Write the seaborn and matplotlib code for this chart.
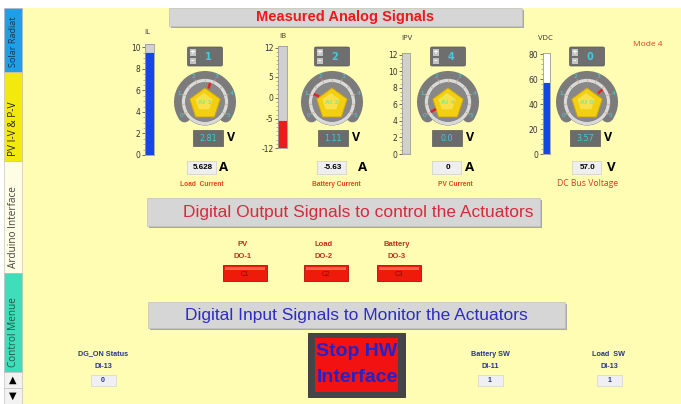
import numpy as np
import matplotlib.pyplot as plt
import seaborn as sns
from matplotlib.patches import Rectangle, Wedge, Circle, RegularPolygon, FancyBboxPatch
from matplotlib.ticker import MultipleLocator

sns.set_style("white")
plt.rcParams["axes.unicode_minus"] = False

NARROW = ["Liberation Sans Narrow", "Liberation Sans", "DejaVu Sans"]
PLAIN = ["Open Sans", "DejaVu Sans"]

# values
tank_names = ["IL", "IB", "IPV", "VDC"]
tank_values = [9.5, -5.63, 0.0, 57.0]
tank_low = [0, -12, 0, 0]
tank_high = [10.3, 12.4, 12.2, 81]
tank_ticks = [[0, 2, 4, 6, 8, 10], [-12, -5, 0, 5, 12],
              [0, 2, 4, 6, 8, 10, 12], [0, 20, 40, 60, 80]]

knob_channel = [1, 2, 4, 0]
knob_volts = [2.81, 1.11, 0.0, 3.57]
knob_volt_text = ["2.81", "1.11", "0.0", "3.57"]
readout_text = ["5.628", "-5.63", "0", "57.0"]
readout_unit = ["A", "A", "A", "V"]
readout_label = ["Load  Current", "Battery Current", "PV Current", "DC Bus Voltage"]

do_names = ["PV", "Load", "Battery"]
do_channels = ["DO-1", "DO-2", "DO-3"]
do_buttons = ["C1", "C2", "C3"]

di_names = ["DG_ON Status", "Battery SW", "Load  SW"]
di_channels = ["DI-13", "DI-11", "DI-13"]
di_values = [0, 1, 1]

tab_names = ["Solar Radiat", "PV I-V & P-V", "Arduino Interface", "Control Menue"]
mode_text = "Mode 4"

W, H = 681, 404
PANEL = "#FFFCB4"

fig = plt.figure(figsize=(W / 100, H / 100), dpi=100)
ax = fig.add_axes([0, 0, 1, 1])
ax.set_xlim(0, W)
ax.set_ylim(H, 0)
ax.axis("off")


def rect(x0, y0, x1, y1, **kw):
    p = Rectangle((x0, y0), x1 - x0, y1 - y0, **kw)
    ax.add_patch(p)
    return p


def label(x, y, s, **kw):
    kw.setdefault("ha", "center")
    kw.setdefault("va", "center")
    return ax.text(x, y, s, **kw)


def polar(cx, cy, r, deg):
    a = np.deg2rad(deg)
    return cx + r * np.cos(a), cy - r * np.sin(a)


def bar_box(x0, y0, x1, y1):
    rect(x0 + 1.5, y0 + 1.5, x1 + 1.5, y1 + 1.5, fc="#A8A8A8", ec="none")
    rect(x0, y0, x1, y1, fc="#D6D6D6", ec="#C2C2C2", lw=0.5)


def draw_knob(cx, cy, volts, channel):
    grey = "#7B7B7B"
    ax.add_patch(Wedge((cx, cy), 31, -215, 35, width=12, fc=grey, ec="none"))
    for end in (215, -35):
        ax.add_patch(Circle(polar(cx, cy, 25, end), 6, fc=grey, ec="none"))
    ax.add_patch(Circle((cx, cy), 23.5, fc=grey, ec="none"))
    ax.add_patch(Circle((cx, cy), 21.5, fc="none", ec="#D9D9D9", lw=2.4))
    ax.add_patch(Circle((cx, cy), 19.5, fc="#888888", ec="none"))
    for k in range(11):
        ang = 210 - 24 * k
        x0, y0 = polar(cx, cy, 20.5, ang)
        x1, y1 = polar(cx, cy, 24.5 if k % 2 == 0 else 23, ang)
        ax.plot([x0, x1], [y0, y1], color="#CFAE8C", lw=0.6)
        if k % 2 == 0:
            tx, ty = polar(cx, cy, 27.5, ang)
            label(tx, ty, str(k // 2), fontsize=4.2, color="#3FD3E3")
    ax.add_patch(RegularPolygon((cx, cy + 2), 5, radius=16, orientation=np.pi,
                                fc="#F3CF12", ec="#D6A400", lw=0.6))
    ax.add_patch(RegularPolygon((cx - 1, cy), 5, radius=9, orientation=np.pi,
                                fc="#FAE04A", ec="none"))
    ang = 210 - 48 * volts
    x0, y0 = polar(cx, cy, 14, ang)
    x1, y1 = polar(cx, cy, 20, ang)
    ax.plot([x0, x1], [y0, y1], color="#E02424", lw=1.8, solid_capstyle="butt")
    label(cx, cy + 1, f"AI {channel}", fontsize=4.6, color="#8EE68E", weight="bold")


# background, panel and tabs
rect(0, 0, W, H, fc="white", ec="none")
rect(22, 8, W, H, fc=PANEL, ec="none")

tab_y = [(8, 72), (72, 161), (161, 273), (273, 372)]
tab_fc = ["#1E9FE6", "#F2E90E", "#FFFDE4", "#3FDDB9"]
tab_tc = ["#1A3550", "#222222", "#444444", "#1F5A48"]
tab_fs = [6.6, 7.2, 7.2, 7.2]
for (y0, y1), name, fc, tc, fs in zip(tab_y, tab_names, tab_fc, tab_tc, tab_fs):
    rect(4, y0, 22, y1, fc=fc, ec="#B8B8B8", lw=0.4)
    ax.text(13, y1 - 5, name, rotation=90, rotation_mode="anchor",
            ha="left", va="center", fontsize=fs, color=tc, family=PLAIN)
rect(4, 372, 22, 388, fc="#F2F2F2", ec="#B8B8B8", lw=0.4)
rect(4, 388, 22, 404, fc="#F2F2F2", ec="#B8B8B8", lw=0.4)
label(13, 380, "\u25B2", fontsize=7, color="black")
label(13, 396, "\u25BC", fontsize=7, color="black")

# section headers
bar_box(169, 8, 522, 26)
label(345, 16.5, "Measured Analog Signals", fontsize=10.5, weight="bold",
      color="#EE1A1A", family=NARROW)
bar_box(147, 198, 540, 226)
label(358, 212.5, "Digital Output Signals to control the Actuators", fontsize=12.5,
      color="#D52B3C", family=NARROW)
bar_box(148, 302, 565, 328)
label(356, 315.5, "Digital Input Signals to Monitor the Actuators", fontsize=12.5,
      color="#2D2DC4", family=NARROW)

label(648, 45, mode_text, fontsize=6, color="#E2401A", family=PLAIN)

# knobs with their numeric controls and indicators
knob_cx = [205, 332, 448, 587]
below_cx = [208, 333, 447, 585]
readout_cx = [201, 331, 446, 586]
unit_x = [224, 363, 470, 611]
caption_x = [202, 336, 455, 588]
for i in range(4):
    cx = knob_cx[i]
    draw_knob(cx, 102, knob_volts[i], knob_channel[i])

    bx = cx - 17.5
    ax.add_patch(FancyBboxPatch((bx, 47), 35, 19, boxstyle="round,pad=0,rounding_size=1.5",
                                fc="#6E6E6E", ec="#585858", lw=0.5))
    rect(bx + 2, 49, bx + 8, 55.5, fc="#C4C4C4", ec="none")
    rect(bx + 2, 57.5, bx + 8, 64, fc="#C4C4C4", ec="none")
    label(bx + 5, 52.2, "+", fontsize=5, color="white", weight="bold")
    label(bx + 5, 60.5, "\u2013", fontsize=5, color="white", weight="bold")
    label(cx + 3, 56.5, str(knob_channel[i]), fontsize=7, color="#38CFE0", weight="bold")

    vx = below_cx[i]
    rect(vx - 15, 130, vx + 15, 146, fc="#6B6B6B", ec="#5A5A5A", lw=0.5)
    label(vx, 138.5, knob_volt_text[i], fontsize=5.8, color="#3CCCDC")
    label(vx + 23, 137.5, "V", fontsize=9, color="black", weight="bold", family=PLAIN)

    rx = readout_cx[i]
    rect(rx - 14.5, 161, rx + 14.5, 174, fc="#EFEFEF", ec="#CDCDCD", lw=0.5)
    label(rx + 2, 167.8, readout_text[i], fontsize=5.8, color="black", weight="bold", family=NARROW)
    label(unit_x[i], 167.5, readout_unit[i], fontsize=9.5, color="black", weight="bold", family=PLAIN)
    if i == 3:
        label(caption_x[i], 184, readout_label[i], fontsize=6.2, color="#E03A20", family=PLAIN)
    else:
        label(caption_x[i], 185, readout_label[i], fontsize=4.8, color="#E8481A",
              weight="bold", family=NARROW)

# tank gauges
tank_px = [(145, 154, 44, 155), (278, 287, 46, 148), (402, 410, 53, 154), (543, 550, 53, 154)]
tank_fill = ["#1447E6", "#EA1C1C", "#1447E6", "#1447E6"]
tank_back = ["#D0D0D0", "#D0D0D0", "#D0D0D0", "#FFFFFF"]
tank_minor = [0.5, 1, 0.5, 4]
tank_label_xy = [(147, 33), (283, 37), (407, 39), (545, 39)]
for i, name in enumerate(tank_names):
    x0, x1, y0, y1 = tank_px[i]
    tax = fig.add_axes([x0 / W, 1 - y1 / H, (x1 - x0) / W, (y1 - y0) / H])
    tax.set_facecolor(tank_back[i])
    sns.barplot(x=[name], y=[tank_values[i] - tank_low[i]], bottom=tank_low[i],
                color=tank_fill[i], saturation=1, width=1, errorbar=None,
                edgecolor=tank_fill[i], linewidth=0.8, ax=tax)
    tax.set_xlim(-0.5, 0.5)
    tax.set_ylim(tank_low[i], tank_high[i])
    tax.set_yticks(tank_ticks[i])
    tax.yaxis.set_minor_locator(MultipleLocator(tank_minor[i]))
    tax.set_xticks([])
    tax.set_xlabel("")
    tax.set_ylabel("")
    tax.tick_params(axis="y", which="major", left=True, length=2.5, width=0.6,
                    color="#555555", labelsize=5.5, labelcolor="#333333", pad=0.8)
    tax.tick_params(axis="y", which="minor", left=True, length=1.3, width=0.4, color="#777777")
    for s in tax.spines.values():
        s.set_color("#9C9C9C")
        s.set_linewidth(0.6)
    label(*tank_label_xy[i], name, fontsize=5.5, color="#333333", family=PLAIN)

# digital outputs
do_x = [245, 326, 399]
for x, name, ch, btn in zip(do_x, do_names, do_channels, do_buttons):
    label(x - 2, 244, name, fontsize=5.5, color="#C0301A", weight="bold", family=NARROW)
    label(x - 2, 256.5, ch, fontsize=5.5, color="#C0301A", weight="bold", family=NARROW)
    rect(x - 22, 265, x + 22, 281, fc="#EE1A0A", ec="#A81010", lw=0.6)
    rect(x - 20, 266.5, x + 20, 270, fc="#F86050", ec="none")
    label(x, 274, btn, fontsize=4.8, color="#7A1010", family=NARROW)

# stop button
rect(308, 333, 405, 397, fc="#454545", ec="#333333", lw=0.6)
rect(315, 338, 398, 392, fc="#F21212", ec="none")
label(357, 351.5, "Stop HW", fontsize=14, color="#2323C8", weight="bold", family=NARROW)
label(357, 378, "Interface", fontsize=14, color="#2323C8", weight="bold", family=NARROW)

# digital inputs
di_x = [103, 490, 609]
for x, name, ch, v in zip(di_x, di_names, di_channels, di_values):
    label(x, 354, name, fontsize=5.2, color="#25358E", weight="bold", family=NARROW)
    label(x, 366, ch, fontsize=5.2, color="#25358E", weight="bold", family=NARROW)
    rect(x - 12.5, 375, x + 12.5, 386, fc="#EFEFF4", ec="#D4D4D4", lw=0.5)
    label(x, 380.5, str(v), fontsize=5, color="#25358E", weight="bold", family=NARROW)

fig.savefig("out.png", dpi=100)
